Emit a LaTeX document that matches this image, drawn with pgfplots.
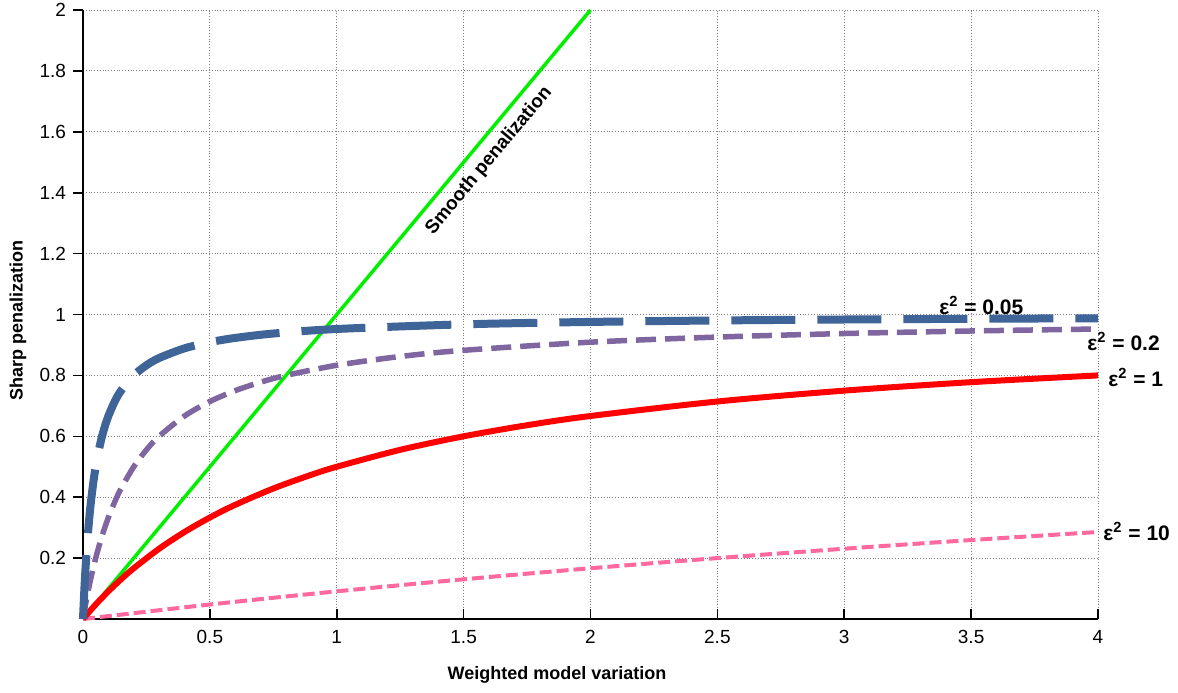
\documentclass[border=0pt]{standalone}
\usepackage{pgfplots}
\pgfplotsset{compat=1.18}
\usepackage{fontspec}
\setmainfont{Liberation Sans}
\definecolor{cblue}{RGB}{62,100,152}
\definecolor{cpurple}{RGB}{128,102,160}
\definecolor{cred}{RGB}{255,0,0}
\definecolor{cpink}{RGB}{255,105,160}
\definecolor{cgreen}{RGB}{0,240,0}
\begin{document}
\begin{tikzpicture}
\useasboundingbox (-41.5pt,-36.5pt) rectangle (547.5pt,309.5pt);
\begin{axis}[
  scale only axis, width=507.5pt, height=304.5pt,
  xmin=0, xmax=4, ymin=0, ymax=2,
  axis lines=left, axis line style={-, black, line width=0.8pt},
  xtick={0,0.5,...,4}, ytick={0.2,0.4,...,2.01},
  xtick align=inside, ytick align=outside,
  major tick length=5pt,
  tick style={black, line width=0.8pt},
  grid=major, major grid style={gray, densely dotted, line width=0.5pt},
  ticklabel style={font=\fontsize{9.5}{11}\selectfont},
  /pgf/number format/assume math mode=true,
  xticklabel style={yshift=-2pt},
  xlabel={\textbf{Weighted model variation}},
  ylabel={\textbf{Sharp penalization}},
  label style={font=\fontsize{9}{11}\selectfont},
  xlabel style={at={(axis description cs:0.467,-0.092)}, anchor=center},
  ylabel style={at={(axis description cs:-0.064,0.49)}, anchor=center},
  clip=false,
]
\addplot[cgreen, line width=1.75pt] coordinates {(0,0) (2,2)};
\addplot[cpink, line width=2pt, dash pattern=on 6pt off 2.5pt, smooth] coordinates {
(0,0) (0.5,0.0476) (1,0.0909) (1.5,0.1304) (2,0.1667) (2.5,0.2) (3,0.2308) (3.5,0.2593) (4,0.2857)};
\addplot[cred, line width=3pt, smooth] coordinates {
(0,0) (0.05,0.0476) (0.1,0.0909) (0.15,0.1304) (0.2,0.1667) (0.3,0.2308) (0.4,0.2857) (0.5,0.3333) (0.6,0.375) (0.75,0.4286) (0.9,0.4737) (1,0.5) (1.25,0.5556) (1.5,0.6) (1.75,0.6364) (2,0.6667) (2.5,0.7143) (3,0.75) (3.5,0.7778) (4,0.8)};
\addplot[cpurple, line width=2.75pt, dash pattern=on 10pt off 4.5pt, smooth] coordinates {
(0,0) (0.01,0.0476) (0.02,0.0909) (0.03,0.1304) (0.05,0.2) (0.075,0.2727) (0.1,0.3333) (0.125,0.3846) (0.15,0.4286) (0.2,0.5) (0.25,0.5556) (0.3,0.6) (0.4,0.6667) (0.5,0.7143) (0.6,0.75) (0.7,0.7778) (0.8,0.8) (1,0.8333) (1.25,0.8621) (1.5,0.8824) (2,0.9091) (2.5,0.9259) (3,0.9375) (3.5,0.9459) (4,0.9524)};
\addplot[cblue, line width=4pt, dash pattern=on 32pt off 11pt, smooth] coordinates {
(0,0) (0.0025,0.0476) (0.005,0.0909) (0.0075,0.1304) (0.01,0.1667) (0.015,0.2308) (0.02,0.2857) (0.025,0.3333) (0.03,0.375) (0.04,0.4444) (0.05,0.5) (0.06,0.5455) (0.075,0.6) (0.09,0.6429) (0.1,0.6667) (0.125,0.7143) (0.15,0.75) (0.2,0.8) (0.25,0.8333) (0.3,0.8571) (0.4,0.8889) (0.5,0.9091) (0.6,0.9231) (0.75,0.9375) (1,0.9524) (1.5,0.9677) (2,0.9756) (2.5,0.9804) (3,0.9836) (3.5,0.9859) (4,0.9877)};
\node[font=\fontsize{9.5}{11}\selectfont\bfseries, rotate=50.2] at (axis cs:1.60,1.505) {Smooth penalization};
\node[font=\fontsize{10.5}{12}\selectfont\bfseries, anchor=west, inner sep=0pt] at (axis cs:3.373,1.03) {ε\textsuperscript{2} = 0.05};
\node[font=\fontsize{10.5}{12}\selectfont\bfseries, anchor=west, inner sep=0pt] at (axis cs:3.957,0.91) {ε\textsuperscript{2} = 0.2};
\node[font=\fontsize{10.5}{12}\selectfont\bfseries, anchor=west, inner sep=0pt] at (axis cs:4.039,0.793) {ε\textsuperscript{2} = 1};
\node[font=\fontsize{10.5}{12}\selectfont\bfseries, anchor=west, inner sep=0pt] at (axis cs:4.02,0.288) {ε\textsuperscript{2} = 10};
\end{axis}
\end{tikzpicture}
\end{document}
